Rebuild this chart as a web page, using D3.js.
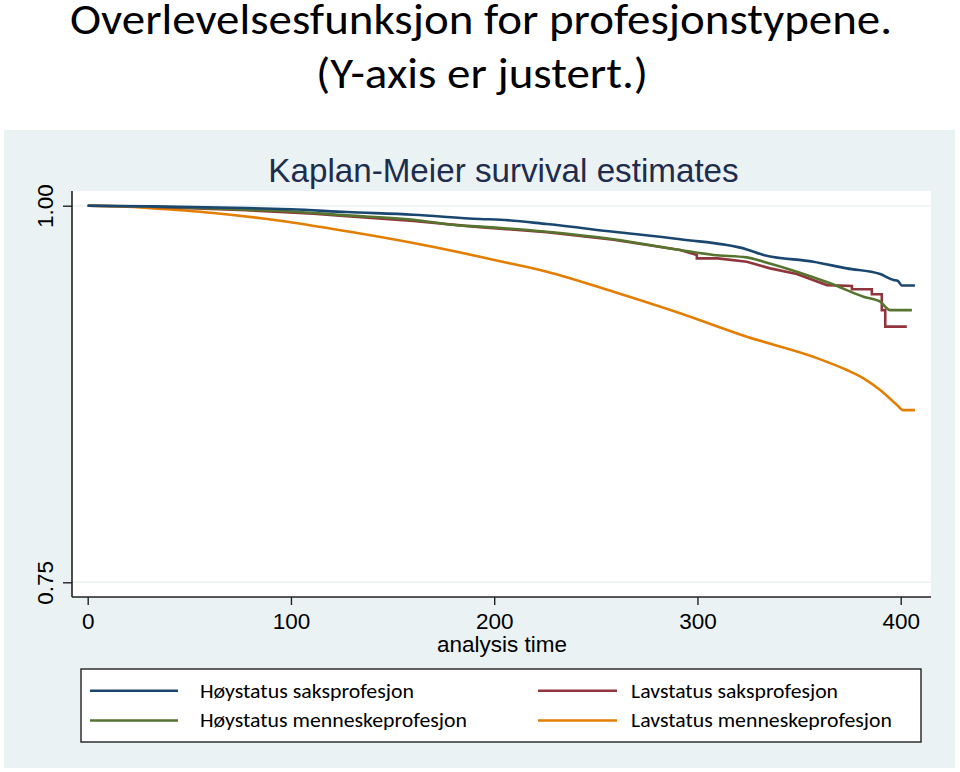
<!DOCTYPE html>
<html>
<head>
<meta charset="utf-8">
<script src="https://cdn.jsdelivr.net/npm/d3@7"></script>
<style>
  html, body { margin: 0; padding: 0; background: #ffffff; }
  svg { display: block; }
</style>
</head>
<body>
<svg id="chart" width="960" height="772"></svg>
<script>
// ---------------- data ----------------
const titleLines = ["Overlevelsesfunksjon for profesjonstypene.", "(Y-axis er justert.)"];
const chartTitle = "Kaplan-Meier survival estimates";
const xAxisTitle = "analysis time";
const xTicks = [0, 100, 200, 300, 400];
const yTicks = [0.75, 1.00];
const yTickLabels = ["0.75", "1.00"];

const seriesNames = [
  "Høystatus saksprofesjon",
  "Høystatus menneskeprofesjon",
  "Lavstatus saksprofesjon",
  "Lavstatus menneskeprofesjon"
];

// Høystatus saksprofesjon
const timeHoySak = [0, 30, 78, 100, 127.5, 160.2, 193, 203, 225.9, 258.7, 291.5, 324.3, 332.5, 357, 373.5, 389.9, 396.5, 398.5, 400.6, 407];
const survHoySak = [1, 0.9996, 0.9985, 0.9976, 0.9958, 0.994, 0.9912, 0.9907, 0.9878, 0.9827, 0.9777, 0.971, 0.9673, 0.9628, 0.9584, 0.9546, 0.9507, 0.9502, 0.947, 0.947];

// Høystatus menneskeprofesjon
const timeHoyMen = [0, 30, 78, 100, 127.5, 160.2, 181.6, 193, 225.9, 258.7, 291.5, 307.9, 324.3, 332.5, 348.9, 365.3, 381.7, 389.9, 394.8, 405.5];
const survHoyMen = [1, 0.9995, 0.9974, 0.9962, 0.9936, 0.9907, 0.987, 0.9861, 0.9827, 0.9777, 0.9706, 0.9673, 0.9657, 0.9628, 0.9562, 0.9485, 0.9396, 0.9363, 0.9307, 0.9307];

// Lavstatus saksprofesjon
const timeLavSak = [0, 30, 78, 94.6, 111, 127.5, 160.2, 193, 225.9, 258.7, 291.5, 299.7, 299.7, 310, 324.3, 335.8, 348.9, 363.7, 376, 376, 385.8, 385.8, 390.7, 390.7, 392.4, 392.4, 403];
const survLavSak = [1, 0.9993, 0.997, 0.9958, 0.9947, 0.993, 0.9898, 0.9858, 0.9824, 0.9774, 0.9706, 0.9673, 0.965, 0.965, 0.9628, 0.9584, 0.9546, 0.9473, 0.9467, 0.9445, 0.9445, 0.9412, 0.9412, 0.9307, 0.9307, 0.9197, 0.9197];

// Lavstatus menneskeprofesjon
const timeLavMen = [0, 15, 29, 61.8, 94.6, 127.5, 160.2, 193, 203, 225.9, 258.7, 291.5, 324.3, 357, 373.5, 381.7, 389.9, 398.2, 401.2, 407];
const survLavMen = [1, 0.9996, 0.9985, 0.9952, 0.990, 0.983, 0.9752, 0.9661, 0.9631, 0.9562, 0.9429, 0.9286, 0.913, 0.8997, 0.8909, 0.8854, 0.8776, 0.8677, 0.8643, 0.8643];

const seriesColors = ["#1a476f", "#55752f", "#90353b", "#e37e00"];

// ---------------- build ----------------
const series = [
  { name: seriesNames[0], t: timeHoySak, s: survHoySak, color: seriesColors[0], smooth: true },
  { name: seriesNames[1], t: timeHoyMen, s: survHoyMen, color: seriesColors[1], smooth: true },
  { name: seriesNames[2], t: timeLavSak, s: survLavSak, color: seriesColors[2], smooth: false },
  { name: seriesNames[3], t: timeLavMen, s: survLavMen, color: seriesColors[3], smooth: true }
];

const svg = d3.select("#chart");

// outer graph region
const bgColor = "#eaf2f3";
svg.append("rect").attr("x", 4).attr("y", 130).attr("width", 951).attr("height", 638).attr("fill", bgColor);

// plot area
const plot = { left: 72, right: 931, top: 191, bottom: 597 };
svg.append("rect")
  .attr("x", plot.left).attr("y", plot.top)
  .attr("width", plot.right - plot.left).attr("height", plot.bottom - plot.top)
  .attr("fill", "#ffffff");

const x = d3.scaleLinear().domain([0, 400]).range([87.7, 900.7]);
const y = d3.scaleLinear().domain([0.75, 1.0]).range([582.3, 205.7]);

// gridlines
svg.append("g").selectAll("line").data(yTicks).join("line")
  .attr("x1", plot.left).attr("x2", plot.right)
  .attr("y1", d => y(d)).attr("y2", d => y(d))
  .attr("stroke", bgColor).attr("stroke-width", 1.5);

// series
const lineSmooth = d3.line().x(d => x(d[0])).y(d => y(d[1])).curve(d3.curveMonotoneX);
const lineStep = d3.line().x(d => x(d[0])).y(d => y(d[1])).curve(d3.curveLinear);
const order = [3, 2, 1, 0];
svg.append("g").selectAll("path").data(order.map(i => series[i])).join("path")
  .attr("d", d => (d.smooth ? lineSmooth : lineStep)(d.t.map((t, i) => [t, d.s[i]])))
  .attr("fill", "none")
  .attr("stroke", d => d.color)
  .attr("stroke-width", 2.6)
  .attr("stroke-linejoin", "miter");

// axes
const axisFont = "Liberation Sans, Arial, sans-serif";
const yAxis = d3.axisLeft(y).tickValues(yTicks).tickSize(9).tickFormat((d, i) => yTickLabels[i]);
const gy = svg.append("g").attr("transform", `translate(${plot.left},0)`).call(yAxis);
gy.select(".domain").attr("d", `M0,${plot.top}V${plot.bottom}`).attr("stroke", "#222").attr("stroke-width", 1.6);
gy.selectAll(".tick line").attr("stroke", "#222").attr("stroke-width", 1.4);
gy.selectAll(".tick text")
  .attr("x", null).attr("dy", null)
  .attr("transform", "translate(-19,0) rotate(-90)")
  .attr("text-anchor", "middle")
  .attr("font-family", axisFont)
  .attr("font-size", 22.5)
  .attr("fill", "#000");

const xAxis = d3.axisBottom(x).tickValues(xTicks).tickSize(8).tickFormat(d3.format("d"));
const gx = svg.append("g").attr("transform", `translate(0,${plot.bottom})`).call(xAxis);
gx.select(".domain").attr("d", `M${plot.left},0H${plot.right}`).attr("stroke", "#222").attr("stroke-width", 1.6);
gx.selectAll(".tick line").attr("stroke", "#222").attr("stroke-width", 1.4);
gx.selectAll(".tick text")
  .attr("y", 32).attr("dy", null)
  .attr("font-family", axisFont)
  .attr("font-size", 22.5)
  .attr("fill", "#000");

svg.append("text")
  .attr("x", 502).attr("y", 652)
  .attr("text-anchor", "middle")
  .attr("font-family", axisFont)
  .attr("font-size", 22.5)
  .attr("fill", "#000")
  .text(xAxisTitle);

// chart title
svg.append("text")
  .attr("x", 503.5).attr("y", 181.5)
  .attr("text-anchor", "middle")
  .attr("font-family", axisFont)
  .attr("font-size", 33.2)
  .attr("fill", "#1e2c4e")
  .text(chartTitle);

// page title
const titleFont = "Carlito, Lato, 'Open Sans', sans-serif";
svg.append("text")
  .attr("x", 481).attr("y", 34)
  .attr("text-anchor", "middle")
  .attr("font-family", titleFont)
  .attr("font-size", 42.5)
  .attr("textLength", 822).attr("lengthAdjust", "spacingAndGlyphs")
  .attr("fill", "#000")
  .text(titleLines[0]);
svg.append("text")
  .attr("x", 482).attr("y", 88)
  .attr("text-anchor", "middle")
  .attr("font-family", titleFont)
  .attr("font-size", 42.5)
  .attr("textLength", 332).attr("lengthAdjust", "spacingAndGlyphs")
  .attr("fill", "#000")
  .text(titleLines[1]);

// legend
svg.append("rect")
  .attr("x", 81).attr("y", 669).attr("width", 840).attr("height", 73)
  .attr("fill", "#ffffff").attr("stroke", "#222").attr("stroke-width", 1.4);

const legendPos = [
  { kx: 90, ky: 690.7, tx: 200, ty: 698, w: 214 },
  { kx: 90, ky: 720.5, tx: 200, ty: 726.5, w: 267 },
  { kx: 538, ky: 690.7, tx: 631, ty: 698, w: 207 },
  { kx: 538, ky: 720.5, tx: 631, ty: 726.5, w: 261 }
];
const keyLen = [88, 88, 79, 79];

const lg = svg.append("g");
series.forEach((s, i) => {
  const p = legendPos[i];
  lg.append("line")
    .attr("x1", p.kx).attr("x2", p.kx + keyLen[i])
    .attr("y1", p.ky).attr("y2", p.ky)
    .attr("stroke", s.color).attr("stroke-width", 2.6);
  lg.append("text")
    .attr("x", p.tx).attr("y", p.ty)
    .attr("font-family", titleFont)
    .attr("font-size", 20)
    .attr("textLength", p.w).attr("lengthAdjust", "spacingAndGlyphs")
    .attr("fill", "#000")
    .text(s.name);
});
</script>
</body>
</html>
